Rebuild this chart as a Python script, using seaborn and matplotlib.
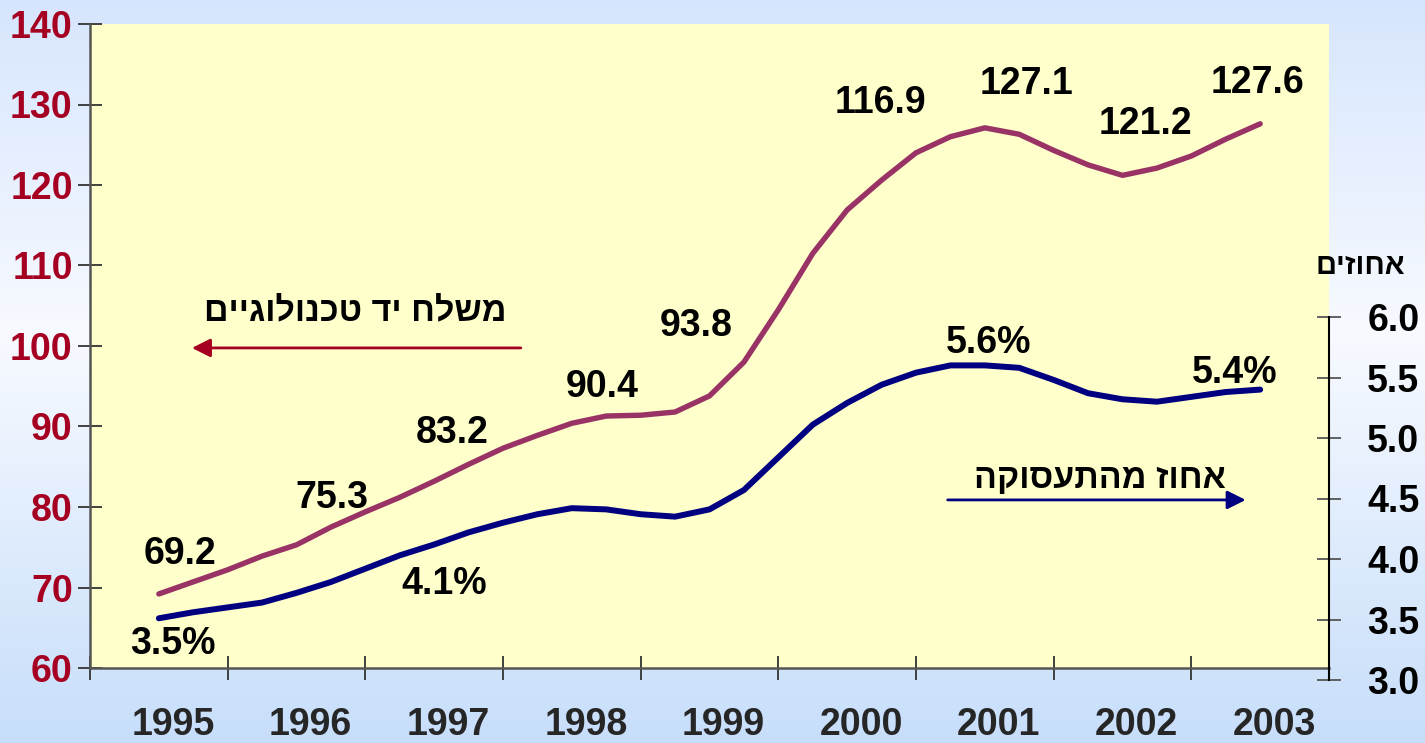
import numpy as np
import pandas as pd
import matplotlib
matplotlib.use('Agg')
import matplotlib.pyplot as plt
import seaborn as sns
from matplotlib.transforms import ScaledTranslation

# data (quarterly readings, 1995Q1 .. 2003Q1)
years = ['1995', '1996', '1997', '1998', '1999', '2000', '2001', '2002', '2003']
tech_workers = [69.2, 70.7, 72.2, 73.9,
                75.3, 77.5, 79.4, 81.2,
                83.2, 85.3, 87.3, 88.9,
                90.4, 91.3, 91.4, 91.8,
                93.8, 98.0, 104.5, 111.5,
                116.9, 120.6, 124.0, 126.0,
                127.1, 126.3, 124.3, 122.5,
                121.2, 122.1, 123.6, 125.7,
                127.6]
employment_share = [3.51, 3.56, 3.60, 3.64,
                    3.72, 3.81, 3.92, 4.03,
                    4.12, 4.22, 4.30, 4.37,
                    4.42, 4.41, 4.37, 4.35,
                    4.41, 4.57, 4.84, 5.11,
                    5.29, 5.44, 5.54, 5.60,
                    5.60, 5.58, 5.48, 5.37,
                    5.32, 5.30, 5.34, 5.38,
                    5.40]
tech_labels = ['69.2', '75.3', '83.2', '90.4', '93.8', '116.9', '127.1', '121.2', '127.6']
share_label_years = [0, 2, 6, 8]
share_labels = ['3.5%', '4.1%', '5.6%', '5.4%']

tech_title = 'משלח יד טכנולוגיים'
share_title = 'אחוז מהתעסוקה'
share_unit = 'אחוזים'

# label offsets in pixels (dx, dy up)
tech_offsets = [(21, 40), (35, 47), (18, 48), (30, 36), (-13, 70), (33, 107), (42, 44), (23, 51), (-3, 41)]
share_offsets = [(14, -26), (10, -40), (4, 22), (-26, 17)]

df = pd.DataFrame({'pos': np.arange(len(tech_workers)) / 4,
                   'tech': tech_workers,
                   'share': employment_share})

sns.set_theme(style='white')
plt.rcParams['font.family'] = ['Liberation Sans', 'DejaVu Sans']
plt.rcParams['font.weight'] = 'bold'

RED = '#993366'
DARKRED = '#A50021'
NAVY = '#000080'
FS = 27

fig = plt.figure(figsize=(14.25, 7.43), dpi=100)

# background gradient
bg = fig.add_axes([0, 0, 1, 1], zorder=-10)
top = np.array([0.84, 0.90, 0.995])
mid = np.array([0.97, 0.98, 1.0])
bot = np.array([0.78, 0.87, 0.98])
t = np.linspace(0, 1, 300)[:, None]
grad = np.where(t < 0.45, top + (mid - top) * (t / 0.45), mid + (bot - mid) * ((t - 0.45) / 0.55))
bg.imshow(grad[:, None, :], aspect='auto', extent=[0, 1, 0, 1])
bg.axis('off')

ax = fig.add_axes([90 / 1425, 75 / 743, 1239 / 1425, 644 / 743], zorder=1)
ax.set_facecolor('#FFFFCC')
sns.lineplot(data=df, x='pos', y='tech', ax=ax, color=RED, linewidth=3.9)
ax.set_xlim(-0.5, len(years) - 0.5)
ax.set_ylim(60, 140)
ax.set_yticks(np.arange(60, 141, 10))
ax.set_xlabel('')
ax.set_ylabel('')
for s in ['top', 'right']:
    ax.spines[s].set_visible(False)
for s in ['left', 'bottom']:
    ax.spines[s].set_color('#555555')
    ax.spines[s].set_linewidth(1.8)
ax.tick_params(axis='y', direction='inout', length=17, width=1.3, color='#333333',
               labelsize=FS, labelcolor=DARKRED, pad=4, left=True)
ax.set_xticks(np.arange(-0.5, len(years), 1))
ax.set_xticklabels([])
ax.tick_params(axis='x', which='major', direction='inout', length=17, width=1.3, color='#333333', bottom=True)
ax.set_xticks(np.arange(len(years)), labels=years, minor=True)
ax.tick_params(axis='x', which='minor', length=0, labelsize=FS, pad=28)
for lab in ax.get_xticklabels(minor=True):
    lab.set_transform(lab.get_transform() + ScaledTranslation(14 / 100, 0, fig.dpi_scale_trans))
for lab in ax.get_yticklabels() + ax.get_xticklabels(minor=True):
    lab.set_fontweight('bold')

# right axis for percentages
ax2 = fig.add_axes([90 / 1425, 63 / 743, 1239 / 1425, 363 / 743], zorder=2, sharex=ax)
ax2.set_facecolor('none')
sns.lineplot(data=df, x='pos', y='share', ax=ax2, color=NAVY, linewidth=4.3)
ax2.set_ylim(3.0, 6.0)
ax2.set_yticks(np.arange(3.0, 6.01, 0.5))
ax2.set_yticklabels([f'{v:.1f}' for v in np.arange(3.0, 6.01, 0.5)])
ax2.set_xlabel('')
ax2.set_ylabel('')
for s in ['top', 'left', 'bottom']:
    ax2.spines[s].set_visible(False)
ax2.spines['right'].set_color('black')
ax2.spines['right'].set_linewidth(1.5)
ax2.yaxis.tick_right()
ax2.tick_params(axis='y', direction='inout', length=17, width=1.3, color='#555555',
                labelsize=FS, labelcolor='black', pad=19, right=True, left=False)
ax2.tick_params(axis='x', which='both', bottom=False, labelbottom=False)
for lab in ax2.get_yticklabels():
    lab.set_fontweight('bold')

# value labels
for i, (txt, (dx, dy)) in enumerate(zip(tech_labels, tech_offsets)):
    ax.annotate(txt, xy=(i, tech_workers[4 * i]), xytext=(dx * 0.72, dy * 0.72),
                textcoords='offset points', ha='center', va='center',
                fontsize=FS, fontweight='bold', color='black')
for i, txt, (dx, dy) in zip(share_label_years, share_labels, share_offsets):
    ax2.annotate(txt, xy=(i, employment_share[4 * i]), xytext=(dx * 0.72, dy * 0.72),
                 textcoords='offset points', ha='center', va='center',
                 fontsize=FS, fontweight='bold', color='black')

# series captions with arrows (Hebrew reversed for visual order)
ax.text(0.214, 0.551, tech_title[::-1], transform=ax.transAxes, ha='center', va='center',
        fontsize=24.5, fontweight='bold', color='black')
ax.annotate('', xy=(0.080, 0.497), xytext=(0.350, 0.497), xycoords='axes fraction',
            arrowprops=dict(arrowstyle='-|>', color=DARKRED, lw=2, mutation_scale=28))
ax.text(0.815, 0.292, share_title[::-1], transform=ax.transAxes, ha='center', va='center',
        fontsize=24.5, fontweight='bold', color='black')
ax.annotate('', xy=(0.935, 0.261), xytext=(0.690, 0.261), xycoords='axes fraction',
            arrowprops=dict(arrowstyle='-|>', color=NAVY, lw=2, mutation_scale=28))

fig.text(1360 / 1425, 1 - 266 / 743, share_unit[::-1], ha='center', va='center',
         fontsize=21, fontweight='bold', color='black')

fig.savefig('out.png', dpi=100)
